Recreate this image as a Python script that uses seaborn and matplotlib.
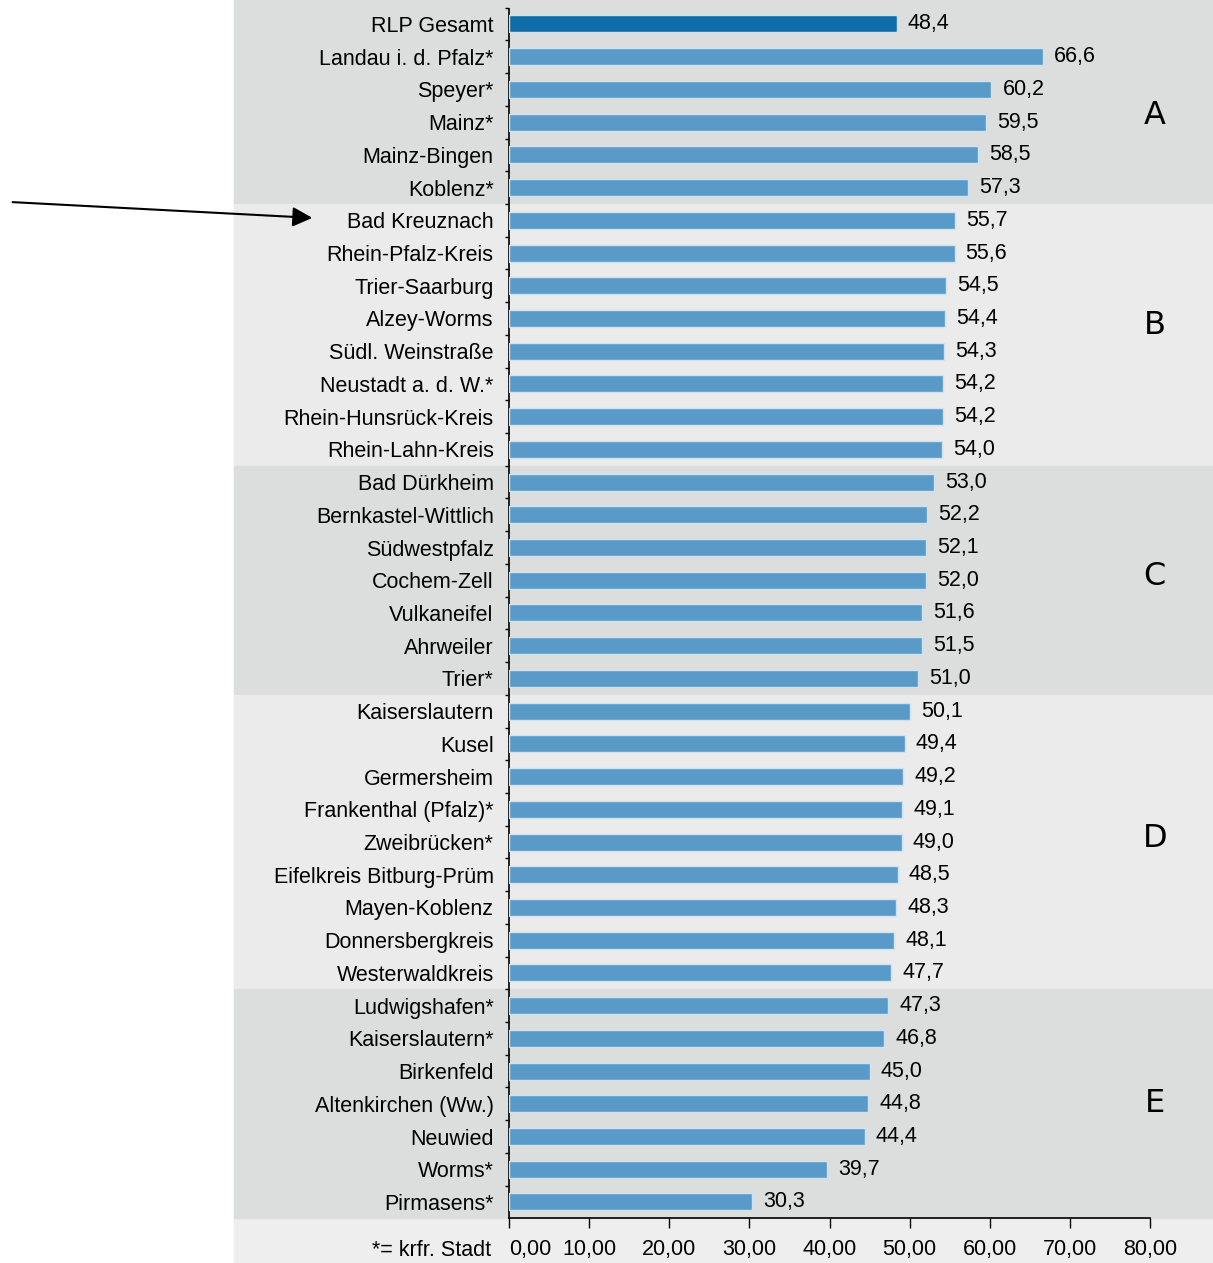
import numpy as np
import matplotlib
matplotlib.use("Agg")
import matplotlib.pyplot as plt
import seaborn as sns
from matplotlib.patches import Rectangle

# Data
regions = [
    "RLP Gesamt", "Landau i. d. Pfalz*", "Speyer*", "Mainz*", "Mainz-Bingen", "Koblenz*",
    "Bad Kreuznach", "Rhein-Pfalz-Kreis", "Trier-Saarburg", "Alzey-Worms", "Südl. Weinstraße",
    "Neustadt a. d. W.*", "Rhein-Hunsrück-Kreis", "Rhein-Lahn-Kreis",
    "Bad Dürkheim", "Bernkastel-Wittlich", "Südwestpfalz", "Cochem-Zell", "Vulkaneifel",
    "Ahrweiler", "Trier*",
    "Kaiserslautern", "Kusel", "Germersheim", "Frankenthal (Pfalz)*", "Zweibrücken*",
    "Eifelkreis Bitburg-Prüm", "Mayen-Koblenz", "Donnersbergkreis", "Westerwaldkreis",
    "Ludwigshafen*", "Kaiserslautern*", "Birkenfeld", "Altenkirchen (Ww.)", "Neuwied",
    "Worms*", "Pirmasens*",
]
values = [
    48.4, 66.6, 60.2, 59.5, 58.5, 57.3,
    55.7, 55.6, 54.5, 54.4, 54.3, 54.2, 54.2, 54.0,
    53.0, 52.2, 52.1, 52.0, 51.6, 51.5, 51.0,
    50.1, 49.4, 49.2, 49.1, 49.0, 48.5, 48.3, 48.1, 47.7,
    47.3, 46.8, 45.0, 44.8, 44.4, 39.7, 30.3,
]
group_letters = ["A", "B", "C", "D", "E"]
group_sizes = [6, 8, 7, 9, 7]
# rows where the group letters sit (a bit off the band centres, as in the original)
letter_rows = [2.8, 9.2, 16.9, 24.9, 33.0]
x_ticks = [0, 10, 20, 30, 40, 50, 60, 70, 80]

dark_band = "#dcdddd"
light_band = "#ebebeb"
bar_color = "#5a9ac9"
total_color = "#0f6ea8"

sns.set_theme(style="white")
plt.rcParams["font.family"] = ["Liberation Sans", "DejaVu Sans"]
plt.rcParams["text.color"] = "black"
plt.rcParams["xtick.color"] = "black"
plt.rcParams["ytick.color"] = "black"

fig = plt.figure(figsize=(12.13, 12.63), dpi=100)
fig.patches.append(Rectangle((234 / 1213, 0), 1 - 234 / 1213, 1, transform=fig.transFigure,
                             color="#eeeeee", zorder=-10))
ax = fig.add_axes([509 / 1213, 45 / 1263, 704 / 1213, 1218 / 1263])
ax.set_facecolor("none")

palette = [total_color] + [bar_color] * (len(regions) - 1)
sns.barplot(x=values, y=regions, hue=regions, palette=palette, orient="h", width=0.52,
            saturation=1, edgecolor="#cfe2ef", linewidth=1, legend=False, ax=ax, zorder=3)

# group bands and letters
ymin_lim, ymax_lim = -0.733, 36.49
start = -0.5
for i, (letter, size, lrow) in enumerate(zip(group_letters, group_sizes, letter_rows)):
    lo = start
    hi = start + size
    lo_b = ymin_lim if i == 0 else lo
    hi_b = ymax_lim if i == len(group_sizes) - 1 else hi
    ax.axhspan(lo_b, hi_b, xmin=-0.3906, xmax=1, color=dark_band if i % 2 == 0 else light_band,
               clip_on=False, zorder=0)
    ax.text(80.6, lrow, letter, ha="center", va="center", fontsize=23,
            family=["DejaVu Sans"], color="black")
    start = hi

for cont in ax.containers:
    ax.bar_label(cont, labels=[f"{w:.1f}".replace(".", ",") for w in cont.datavalues],
                 padding=8, fontsize=15.5, color="black")

ax.set_xlim(0, 87.86)
ax.set_ylim(ymax_lim, ymin_lim)
ax.set_xticks(x_ticks)
ax.set_xticklabels([f"{t:.2f}".replace(".", ",") for t in x_ticks], fontsize=15.5)
ax.get_xticklabels()[0].set_ha("left")
ax.set_yticks(range(len(regions)))
ax.set_yticklabels(regions, fontsize=15.5)
ax.set_yticks(np.arange(-0.5, len(regions) - 0.5, 1), minor=True)
ax.tick_params(axis="y", which="major", length=0, pad=11)
ax.tick_params(axis="y", which="minor", left=True, length=3, width=1, color="black")
ax.tick_params(axis="x", bottom=True, length=7, width=1, color="black", pad=8)
ax.set_xlabel("")
ax.set_ylabel("")

for s in ["top", "right"]:
    ax.spines[s].set_visible(False)
for s in ["left", "bottom"]:
    ax.spines[s].set_color("black")
    ax.spines[s].set_linewidth(1.2)
ax.spines["bottom"].set_bounds(0, 80)
ax.spines["left"].set_bounds(ymax_lim, -0.45)

fig.text(491 / 1213, 13 / 1263, "*= krfr. Stadt", ha="right", va="center", fontsize=15.5)

ax.annotate("", xy=(-24.2, 5.93), xytext=(-62.3, 5.44), xycoords="data",
            arrowprops=dict(arrowstyle="-|>", color="black", lw=1.5, mutation_scale=30),
            annotation_clip=False)

fig.savefig("out.png", dpi=100)
